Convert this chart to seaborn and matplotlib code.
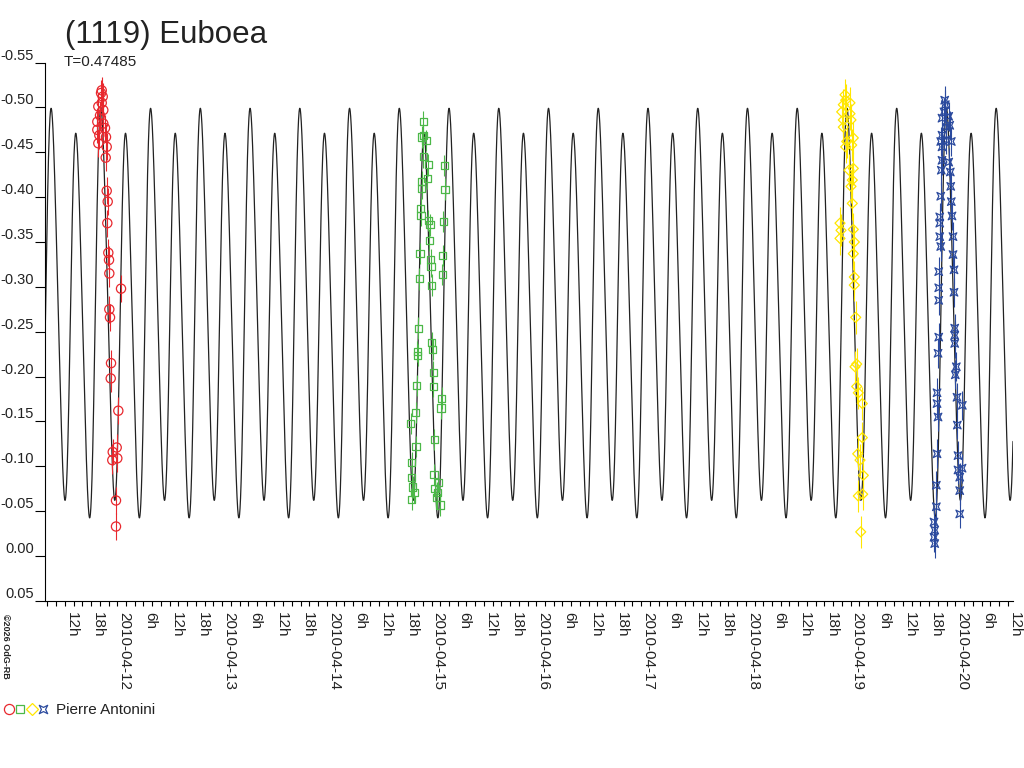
"""
Lightcurve of (1119) Euboea: Fourier model plus four observing sessions.
"""
import numpy as np
import pandas as pd
import matplotlib
matplotlib.use("Agg")
import matplotlib.pyplot as plt
import matplotlib.dates as mdates
import seaborn as sns
from matplotlib.ticker import MultipleLocator, FuncFormatter
from matplotlib.lines import Line2D
from matplotlib.legend_handler import HandlerTuple
from matplotlib.path import Path

# Model (Fourier fit, phase zero at EPOCH)
PERIOD_DAYS = 0.47485
EPOCH = "2010-04-12 19:10"
MEAN_MAG = -0.26875
COS_TERMS = [-0.015, -0.2122, 0.0, 0.0]
SIN_TERMS = [-0.0112, 0.0, 0.0, 0.0212]

X_START = "2010-04-11 07:26"
X_END = "2010-04-20 13:13"

# Session 1 (red circles), hours UT from 2010-04-11 00:00
red_date = "2010-04-11"
red_hours = [20.43, 20.27, 20.66, 20.43, 19.65, 20.79, 20.04, 19.42, 20.79, 19.42,
             21.18, 19.88, 21.41, 19.65, 21.57, 21.34, 21.57, 21.80, 21.71, 21.94,
             22.10, 22.17, 24.85, 22.17, 22.33, 22.56, 22.49, 24.23, 23.86, 22.95,
             24.00, 22.85, 23.70, 23.70]
red_mag = [-0.519, -0.516, -0.512, -0.505, -0.501, -0.497, -0.491, -0.484, -0.482, -0.475,
           -0.477, -0.469, -0.467, -0.460, -0.456, -0.444, -0.407, -0.395, -0.371, -0.338,
           -0.330, -0.315, -0.298, -0.275, -0.266, -0.215, -0.198, -0.162, -0.121, -0.116,
           -0.109, -0.107, -0.062, -0.033]
red_err = 0.015

# Session 2 (green squares)
green_date = "2010-04-14"
green_hours = [22.11, 22.11, 21.74, 22.73, 22.11, 23.26, 21.74, 23.03, 21.74, 21.51,
               21.58, 23.26, 23.65, 23.48, 21.35, 23.81, 23.87, 21.19, 24.03, 26.92,
               27.08, 26.69, 26.56, 26.46, 20.96, 24.03, 20.74, 24.26, 20.83, 24.40,
               20.60, 24.40, 26.33, 20.37, 26.17, 19.22, 24.63, 20.44, 19.45, 24.56,
               19.45, 25.55, 19.68, 24.79, 20.05, 19.45, 25.32, 25.18, 25.94]
green_mag = [-0.484, -0.469, -0.467, -0.463, -0.445, -0.436, -0.417, -0.421, -0.410, -0.387,
             -0.380, -0.374, -0.369, -0.352, -0.337, -0.330, -0.323, -0.309, -0.302, -0.435,
             -0.409, -0.373, -0.335, -0.314, -0.254, -0.238, -0.228, -0.230, -0.224, -0.205,
             -0.190, -0.189, -0.176, -0.160, -0.165, -0.148, -0.130, -0.122, -0.104, -0.091,
             -0.088, -0.082, -0.077, -0.075, -0.071, -0.063, -0.071, -0.065, -0.057]
green_err = 0.012

# Session 3 (yellow diamonds)
yellow_date = "2010-04-18"
yellow_hours = [22.73, 22.89, 22.34, 23.87, 21.97, 23.87, 22.34, 24.10, 22.34, 24.63,
                23.12, 24.26, 22.89, 24.63, 23.65, 24.40, 24.10, 24.40, 21.58, 21.81,
                24.63, 21.58, 24.86, 24.63, 24.86, 24.86, 25.18, 25.41, 25.02, 25.41,
                25.78, 26.69, 26.69, 25.64, 26.17, 26.92, 26.78, 25.78, 26.33]
yellow_mag = [-0.514, -0.508, -0.503, -0.505, -0.495, -0.493, -0.486, -0.486, -0.478, -0.466,
              -0.462, -0.458, -0.456, -0.432, -0.430, -0.419, -0.412, -0.393, -0.371, -0.363,
              -0.364, -0.354, -0.350, -0.337, -0.311, -0.302, -0.266, -0.214, -0.211, -0.189,
              -0.182, -0.170, -0.132, -0.114, -0.107, -0.090, -0.069, -0.067, -0.027]
yellow_err = 0.018

# Session 4 (blue stars)
blue_date = "2010-04-19"
blue_hours = [21.57, 21.71, 21.41, 22.49, 20.95, 22.72, 21.94, 20.95, 20.66, 21.94,
              23.08, 20.95, 20.95, 22.49, 20.79, 22.85, 22.95, 20.66, 23.08, 23.24,
              20.43, 20.43, 20.43, 23.47, 20.66, 23.47, 20.20, 23.70, 20.20, 20.20,
              23.70, 23.86, 23.86, 23.86, 20.20, 20.04, 24.23, 24.00, 19.81, 19.81,
              25.60, 24.39, 20.04, 24.46, 19.81, 24.62, 24.62, 25.54, 25.01, 19.65,
              25.01, 19.65, 25.01, 19.12, 19.28, 19.12, 19.28]
blue_mag = [-0.508, -0.503, -0.495, -0.490, -0.488, -0.480, -0.478, -0.469, -0.462, -0.464,
            -0.462, -0.456, -0.441, -0.439, -0.430, -0.428, -0.412, -0.401, -0.395, -0.379,
            -0.378, -0.371, -0.356, -0.356, -0.345, -0.336, -0.317, -0.319, -0.299, -0.285,
            -0.294, -0.254, -0.246, -0.237, -0.244, -0.226, -0.211, -0.202, -0.182, -0.170,
            -0.168, -0.177, -0.155, -0.146, -0.114, -0.112, -0.096, -0.098, -0.088, -0.079,
            -0.073, -0.055, -0.047, -0.038, -0.029, -0.021, -0.014]
blue_err = 0.016

OBSERVER = "Pierre Antonini"

# "¤"-like marker used for the fourth session
star_path = Path([(-1, 1), (0, 0.5), (1, 1), (0.5, 0), (1, -1), (0, -0.5),
                  (-1, -1), (-0.5, 0), (-1, 1)], closed=True)

sessions = [
    (red_date, red_hours, red_mag, red_err, "#E8282E", "o", 44),
    (green_date, green_hours, green_mag, green_err, "#4CB848", "s", 26),
    (yellow_date, yellow_hours, yellow_mag, yellow_err, "#FFE600", "D", 26),
    (blue_date, blue_hours, blue_mag, blue_err, "#2B4A9E", star_path, 30),
]

sns.set_style("ticks")
plt.rcParams["font.family"] = ["Liberation Sans", "DejaVu Sans"]
plt.rcParams["axes.unicode_minus"] = False

fig = plt.figure(figsize=(10.24, 7.68), dpi=100)
ax = fig.add_axes([45 / 1024, 1 - 601 / 768, 968 / 1024, 538.5 / 768])

# Model curve
model_t = pd.date_range(X_START, X_END, freq="1min")
phase = ((model_t - pd.Timestamp(EPOCH)) / pd.Timedelta(days=PERIOD_DAYS)).values
model_mag = np.full(len(phase), MEAN_MAG)
for k, (c, s) in enumerate(zip(COS_TERMS, SIN_TERMS), start=1):
    model_mag += c * np.cos(2 * np.pi * k * phase) + s * np.sin(2 * np.pi * k * phase)
model = pd.DataFrame({"time": model_t, "mag": model_mag})
sns.lineplot(data=model, x="time", y="mag", estimator=None, sort=False,
             color="#222222", linewidth=0.9, ax=ax, zorder=2)

# Observations
handles = []
for date, hours, mags, err, color, marker, size in sessions:
    df = pd.DataFrame({
        "time": pd.Timestamp(date) + pd.to_timedelta(hours, unit="h"),
        "mag": mags,
    })
    ax.errorbar(df["time"], df["mag"], yerr=err, fmt="none", ecolor=color,
                elinewidth=0.8, capsize=0, zorder=3)
    sns.scatterplot(data=df, x="time", y="mag", marker=marker, s=size,
                    facecolor="none", edgecolor=color, linewidth=0.9,
                    ax=ax, zorder=4, legend=False)
    handles.append(Line2D([], [], ls="none", marker=marker, markersize=np.sqrt(size) * 1.1,
                          markerfacecolor="none", markeredgecolor=color,
                          markeredgewidth=0.9))

# Axes
ax.set_xlim(pd.Timestamp(X_START), pd.Timestamp(X_END))
ax.set_ylim(0.05, -0.55)
ax.set_xlabel("")
ax.set_ylabel("")
sns.despine(ax=ax)
for side in ("left", "bottom"):
    ax.spines[side].set_color("black")
    ax.spines[side].set_linewidth(0.8)

ax.yaxis.set_major_locator(MultipleLocator(0.05))
ax.yaxis.set_major_formatter(FuncFormatter(lambda v, pos: f"{round(v, 2) + 0.0:.2f}"))
ax.xaxis.set_major_locator(mdates.HourLocator(byhour=range(0, 24, 6)))
ax.xaxis.set_minor_locator(mdates.HourLocator(byhour=range(0, 24, 2)))


def time_label(x, pos):
    d = pd.Timestamp(mdates.num2date(x)).round("min")
    if d.hour == 0:
        return d.strftime("%Y-%m-%d")
    return f"{d.hour}h"


ax.xaxis.set_major_formatter(FuncFormatter(time_label))
ax.tick_params(axis="y", length=7.2, width=0.8, pad=0.8, labelsize=10.5,
               color="black", labelcolor="#222222")
ax.tick_params(axis="x", which="both", length=3.6, width=0.8, color="black")
ax.tick_params(axis="x", which="major", pad=4, labelsize=11,
               labelrotation=-90, labelcolor="#222222")
plt.setp(ax.get_xticklabels(), ha="left", va="top")
plt.setp(ax.get_yticklabels(), va="bottom")

# Texts
fig.text(65 / 1024, 1 - 43.5 / 768, "(1119) Euboea", fontsize=22.5,
         color="#222222", va="baseline", ha="left")
fig.text(64 / 1024, 1 - 66.5 / 768, f"T={PERIOD_DAYS}", fontsize=11,
         color="#222222", va="baseline", ha="left")
fig.text(5 / 1024, 1 - 646 / 768, "\u00a92026 OdG-RB", fontsize=6.5,
         fontweight="bold", rotation=-90, va="center", ha="center", color="#222222")

fig.legend(handles=[tuple(handles)], labels=[OBSERVER],
           handler_map={tuple: HandlerTuple(ndivide=None, pad=0.0)},
           loc="center left", bbox_to_anchor=(3 / 1024, 1 - 710 / 768),
           frameon=False, fontsize=11, handlelength=3.0, handletextpad=0.5,
           borderpad=0, borderaxespad=0, labelcolor="#222222")

fig.savefig("out.png", dpi=100)
plt.close(fig)
